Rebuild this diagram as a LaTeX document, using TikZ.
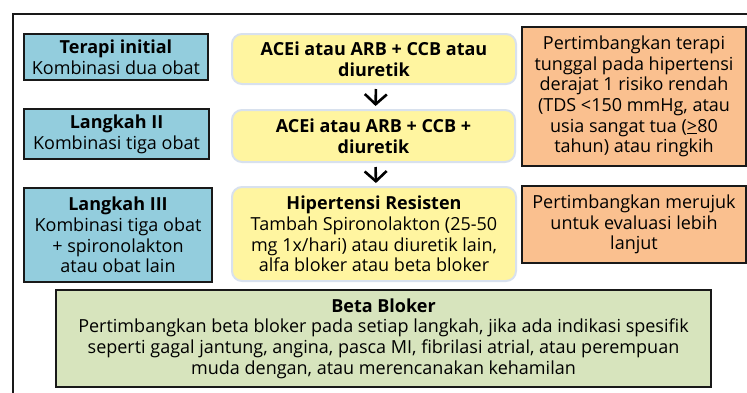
\documentclass[tikz,border=0pt]{standalone}
\usepackage{fontspec}
\setmainfont{Open Sans}
\usetikzlibrary{arrows.meta}
\definecolor{bluefill}{RGB}{147,205,221}
\definecolor{orangefill}{RGB}{250,192,143}
\definecolor{greenfill}{RGB}{215,228,189}
\definecolor{yellowfill}{RGB}{255,245,160}
\definecolor{yellowline}{RGB}{216,225,238}
\definecolor{darkline}{RGB}{25,25,25}
\tikzset{
  base/.style={align=center, inner sep=0pt, font=\fontsize{18}{20.7}\selectfont, text=black},
  bluebox/.style={base, draw=darkline, line width=2.4pt, fill=bluefill},
  orangebox/.style={base, draw=darkline, line width=2.4pt, fill=orangefill},
  greenbox/.style={base, draw=darkline, line width=2.4pt, fill=greenfill},
  yellowbox/.style={base, draw=yellowline, line width=2pt, fill=yellowfill, rounded corners=10pt},
  arr/.style={line width=2.6pt, -{Straight Barb[length=10pt,width=22pt]}, shorten <=4pt, shorten >=3pt}
}
\begin{document}
\begin{tikzpicture}[x=1pt,y=-1pt]
\useasboundingbox (0,0) rectangle (747,392);
\clip (0,0) rectangle (747,392);
\fill[white] (0,0) rectangle (747,392);
\draw[line width=2.6pt, darkline] (13,800) -- (13,14) -- (800,14);

\node[bluebox, minimum width=184pt, minimum height=46pt] (b1) at (116,57)
  {\textbf{Terapi initial}\\Kombinasi dua obat};
\node[bluebox, minimum width=185pt, minimum height=50pt] (b2) at (116.5,134)
  {\textbf{Langkah II}\\Kombinasi tiga obat};
\node[bluebox, minimum width=188pt, minimum height=94pt] (b3) at (118,235)
  {\textbf{Langkah III}\\Kombinasi tiga obat\\+ spironolakton\\atau obat lain};

\node[yellowbox, minimum width=284pt, minimum height=50pt] (y1) at (374,59)
  {\textbf{ACEi atau ARB + CCB atau}\\\textbf{diuretik}};
\node[yellowbox, minimum width=283pt, minimum height=52pt] (y2) at (373.5,136)
  {\textbf{ACEi atau ARB + CCB +}\\\textbf{diuretik}};
\node[yellowbox, minimum width=284pt, minimum height=94pt] (y3) at (374,234)
  {\textbf{Hipertensi Resisten}\\Tambah Spironolakton (25-50\\mg 1x/hari) atau diuretik lain,\\alfa bloker atau beta bloker};

\node[orangebox, minimum width=224pt, minimum height=139pt] (o1) at (634,96.5)
  {Pertimbangkan terapi\\tunggal pada hipertensi\\derajat 1 risiko rendah\\(TDS <150 mmHg, atau\\usia sangat tua (\underline{>}80\\tahun) atau ringkih};
\node[orangebox, minimum width=224pt, minimum height=77pt] (o2) at (634,224.5)
  {Pertimbangkan merujuk\\untuk evaluasi lebih\\lanjut};

\node[greenbox, minimum width=655pt, minimum height=97pt] (g) at (383.5,338.5)
  {\textbf{Beta Bloker}\\Pertimbangkan beta bloker pada setiap langkah, jika ada indikasi spesifik\\seperti gagal jantung, angina, pasca MI, fibrilasi atrial, atau perempuan\\muda dengan, atau merencanakan kehamilan};

\draw[arr] ([xshift=2pt]y1.south) -- ([xshift=2pt]y2.north);
\draw[arr] ([xshift=2pt]y2.south) -- ([xshift=2pt]y3.north);
\end{tikzpicture}
\end{document}
